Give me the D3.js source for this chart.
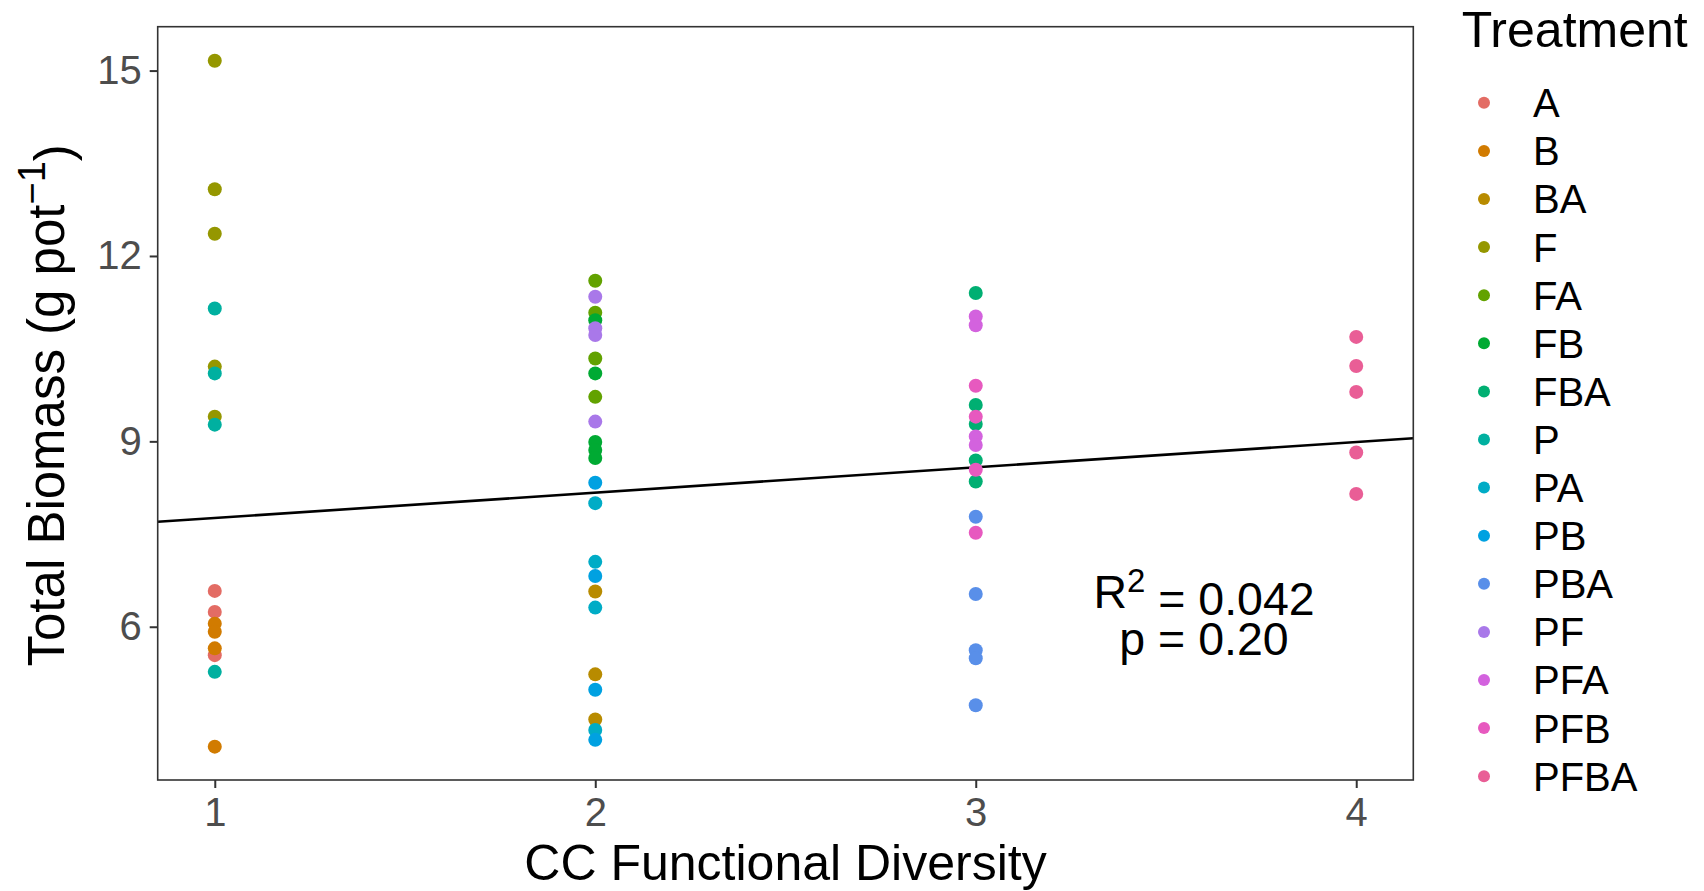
<!DOCTYPE html>
<html>
<head>
<meta charset="utf-8">
<script src="https://cdn.jsdelivr.net/npm/d3@7"></script>
<style>
  html, body { margin: 0; padding: 0; background: #ffffff; }
  svg { display: block; font-family: "Liberation Sans", Arial, Helvetica, sans-serif; }
</style>
</head>
<body>
<svg id="chart" width="1704" height="891"></svg>
<script>
// Treatments and their cover-crop functional diversity (number of functional groups)
const treatments = ["A", "B", "BA", "F", "FA", "FB", "FBA", "P", "PA", "PB", "PBA", "PF", "PFA", "PFB", "PFBA"];
const diversity  = [1, 1, 2, 1, 2, 2, 3, 1, 2, 2, 3, 2, 3, 3, 4];

// Total biomass per pot (g) for each treatment, same order as `treatments`
const biomass = [
  [6.58, 6.24, 5.54],                 // A
  [6.05, 5.92, 5.65, 4.06],           // B
  [6.57, 5.23, 4.50],                 // BA
  [15.16, 13.08, 12.36, 10.21, 9.40], // F
  [11.60, 11.08, 10.34, 9.72],        // FA
  [10.96, 10.10, 8.99, 8.86, 8.73],   // FB
  [11.40, 9.59, 9.28, 8.69, 8.35],    // FBA
  [11.15, 10.10, 9.27, 5.27],         // P
  [8.00, 7.05, 6.31, 4.33],           // PA
  [8.33, 6.82, 4.98, 4.17],           // PB
  [7.78, 6.53, 5.62, 5.49, 4.73],     // PBA
  [11.34, 10.83, 10.72, 9.32],        // PF
  [11.02, 10.88, 9.08, 8.94],         // PFA
  [9.90, 9.40, 8.54, 7.52],           // PFB
  [10.69, 10.22, 9.80, 8.82, 8.15]    // PFBA
];

// Colours, one per treatment (hue wheel, slightly deepened)
const colours = ["#F8766D", "#E58700", "#C99800", "#A3A500", "#6BB100", "#00BA38", "#00BF7D",
                 "#00C0AF", "#00BCD8", "#00B0F6", "#619CFF", "#B983FF", "#E76BF3", "#FD61D1", "#FF67A4"]
  .map(c => d3.color(c).darker(0.25).formatHex());

// Axis ticks
const xTicks = [1, 2, 3, 4];
const yTicks = [6, 9, 12, 15];

// Linear fit and its summary
const fitIntercept = 7.35;
const fitSlope = 0.41;
const rSquared = "0.042";
const pValue = "0.20";

// ---------------------------------------------------------------------------
const svg = d3.select("#chart");
const panel = { left: 157.7, top: 26.7, right: 1413.3, bottom: 780 };

const x = d3.scaleLinear().domain([0.85, 4.15]).range([panel.left, panel.right]);
const y = d3.scaleLinear().domain([3.52, 15.71]).range([panel.bottom, panel.top]);
const colour = d3.scaleOrdinal().domain(treatments).range(colours);

const points = [];
treatments.forEach((t, i) => {
  biomass[i].forEach(v => points.push({ treatment: t, cfd: diversity[i], value: v }));
});

// clip for the fitted line
svg.append("defs").append("clipPath").attr("id", "panel-clip")
  .append("rect")
  .attr("x", panel.left).attr("y", panel.top)
  .attr("width", panel.right - panel.left).attr("height", panel.bottom - panel.top);

// Axes
const tickColour = "#333333";
const xAxis = svg.append("g")
  .attr("transform", `translate(0,${panel.bottom})`)
  .call(d3.axisBottom(x).tickValues(xTicks).tickSize(8).tickPadding(10).tickFormat(d3.format("d")));
const yAxis = svg.append("g")
  .attr("transform", `translate(${panel.left},0)`)
  .call(d3.axisLeft(y).tickValues(yTicks).tickSize(8).tickPadding(8).tickFormat(d3.format("d")));

[xAxis, yAxis].forEach(g => {
  g.select(".domain").remove();
  g.selectAll(".tick line").attr("stroke", tickColour).attr("stroke-width", 2);
  g.selectAll(".tick text").attr("fill", "#4D4D4D").style("font-size", "40px")
    .style("font-family", "'Liberation Sans', Arial, sans-serif");
});

// Fitted regression line across the full panel
const xd = x.domain();
svg.append("line")
  .attr("clip-path", "url(#panel-clip)")
  .attr("x1", x(xd[0])).attr("y1", y(fitIntercept + fitSlope * xd[0]))
  .attr("x2", x(xd[1])).attr("y2", y(fitIntercept + fitSlope * xd[1]))
  .attr("stroke", "#000000").attr("stroke-width", 2.6);

// Points
svg.append("g").selectAll("circle")
  .data(points)
  .join("circle")
  .attr("cx", d => x(d.cfd))
  .attr("cy", d => y(d.value))
  .attr("r", 7)
  .attr("fill", d => colour(d.treatment));

// Panel border
svg.append("rect")
  .attr("x", panel.left).attr("y", panel.top)
  .attr("width", panel.right - panel.left).attr("height", panel.bottom - panel.top)
  .attr("fill", "none").attr("stroke", tickColour).attr("stroke-width", 1.6);

// Fit annotation
const annX = 3.6, annY = 6.3;
const ann = svg.append("g").style("font-size", "46.5px").attr("fill", "#000");
const l1 = ann.append("text")
  .attr("x", x(annX)).attr("y", y(annY)).attr("text-anchor", "middle");
l1.append("tspan").text("R");
l1.append("tspan").attr("dy", "-0.5em").style("font-size", "33px").text("2");
l1.append("tspan").attr("dy", "0.5em").text(" = " + rSquared);
ann.append("text")
  .attr("x", x(annX)).attr("y", y(annY) + 47).attr("text-anchor", "middle")
  .text("p = " + pValue);

// Axis titles
svg.append("text")
  .attr("x", (panel.left + panel.right) / 2).attr("y", 880)
  .attr("text-anchor", "middle").style("font-size", "50px").attr("fill", "#000")
  .text("CC Functional Diversity");

const yTitle = svg.append("text")
  .attr("transform", `translate(64,${(panel.top + panel.bottom) / 2 + 2}) rotate(-90)`)
  .attr("text-anchor", "middle").style("font-size", "51px").attr("fill", "#000");
yTitle.append("tspan").text("Total Biomass (g pot");
yTitle.append("tspan").attr("dy", "-0.5em").style("font-size", "38px").text("\u22121");
yTitle.append("tspan").attr("dy", "0.5em").text(")");

// Legend
const legend = svg.append("g");
legend.append("text")
  .attr("x", 1461.7).attr("y", 46.7)
  .style("font-size", "50px").attr("fill", "#000").text("Treatment");
const item = legend.selectAll("g.item")
  .data(treatments)
  .join("g").attr("class", "item")
  .attr("transform", (d, i) => `translate(0,${102.8 + i * 48.1})`);
item.append("circle").attr("cx", 1484).attr("cy", 0).attr("r", 6).attr("fill", d => colour(d));
item.append("text").attr("x", 1533).attr("y", 0).attr("dy", "0.36em")
  .style("font-size", "40px").attr("fill", "#000").text(d => d);
</script>
</body>
</html>
